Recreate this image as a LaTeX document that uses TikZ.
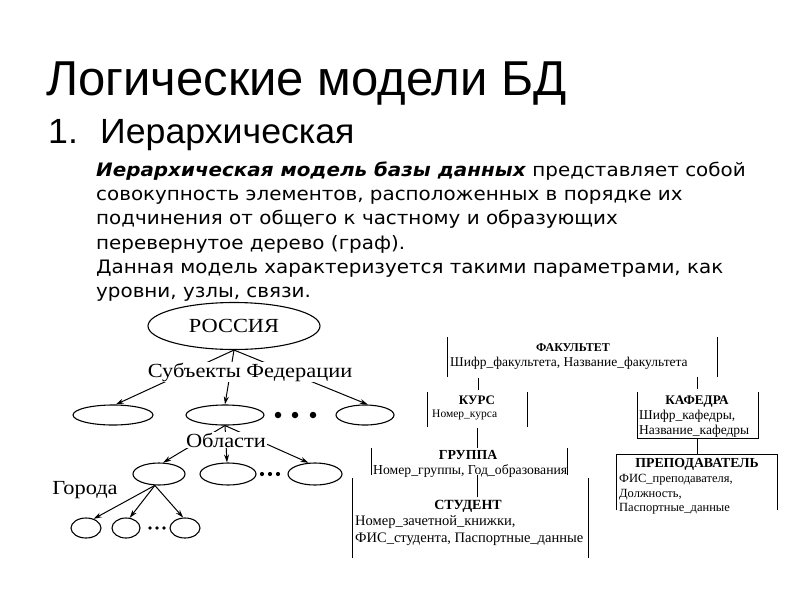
\documentclass[tikz,border=0pt]{standalone}
\usepackage{fontspec}
\setmainfont{Liberation Serif}
\newfontfamily\titlefont{Liberation Sans}
\newfontfamily\subfont[FakeStretch=1.02]{Liberation Sans}
\newfontfamily\parfont[FakeStretch=1.075]{DejaVu Sans}
\newfontfamily\treefont[FakeStretch=1.12]{Liberation Serif}
\usetikzlibrary{shapes.geometric,arrows.meta}
\begin{document}
\begin{tikzpicture}[x=1pt,y=-1pt,
  oval/.style={ellipse, draw, line width=1.1pt, inner sep=0pt},
  arr/.style={-{Stealth[length=8pt,width=5pt]}, line width=1pt},
  lbl/.style={font=\treefont\fontsize{20}{24}\selectfont, fill=white, inner sep=1pt},
  dotb/.style={circle, fill, inner sep=0pt},
  side/.style={line width=0.9pt},
  hdr/.style={font=\bfseries\fontsize{#1}{14}\selectfont, inner sep=0pt, anchor=base},
  fld/.style={font=\fontsize{#1}{14}\selectfont, inner sep=0pt, anchor=base west},
  ptext/.style={font=\parfont\fontsize{18.5}{22}\selectfont, anchor=base west, inner sep=0pt}]
\useasboundingbox (0,0) rectangle (800,600);
\fill[white] (0,0) rectangle (800,600);

% titles
\node[font=\titlefont\fontsize{49}{54}\selectfont, anchor=base west, inner sep=0pt] (title) at (46,95) {Логические модели БД};
\node[font=\subfont\fontsize{35}{40}\selectfont, anchor=base west, inner sep=0pt] (num) at (48,143.5) {1.};
\node[font=\subfont\fontsize{35}{40}\selectfont, anchor=base west, inner sep=0pt] (sub) at (100,143.5) {Иерархическая};

% paragraph
\node[ptext] (p1) at (96,176.5) {\textbf{\textit{Иерархическая модель базы данных}} представляет собой};
\node[ptext] (p2) at (96,200.7) {совокупность элементов, расположенных в порядке их};
\node[ptext] (p3) at (96,224.9) {подчинения от общего к частному и образующих};
\node[ptext] (p4) at (96,249.1) {перевернутое дерево (граф).};
\node[ptext] (p5) at (96,273.3) {Данная модель характеризуется такими параметрами, как};
\node[ptext] (p6) at (96,297.5) {уровни, узлы, связи.};

% tree
\node[oval, minimum width=172pt, minimum height=47pt] (rus) at (234,326) {\treefont\fontsize{20}{24}\selectfont РОССИЯ};
\node[oval, minimum width=80pt, minimum height=20pt] (e1) at (113,415) {};
\node[oval, minimum width=78pt, minimum height=20pt] (e2) at (225,415) {};
\node[oval, minimum width=58pt, minimum height=20pt] (e3) at (365,415) {};
\node[oval, minimum width=52pt, minimum height=22pt] (f1) at (159,474) {};
\node[oval, minimum width=56pt, minimum height=22pt] (f2) at (228,474) {};
\node[oval, minimum width=54pt, minimum height=22pt] (f3) at (315,474) {};
\node[oval, minimum width=30pt, minimum height=20pt] (g1) at (86,528) {};
\node[oval, minimum width=28pt, minimum height=20pt] (g2) at (126,528) {};
\node[oval, minimum width=30pt, minimum height=20pt] (g3) at (185,528) {};

\draw[arr] (rus.south) -- (e1.75);
\draw[arr] (rus.south) -- (e2.north);
\draw[arr] (rus.south) -- (e3.75);
\draw[arr] (e2.south) -- (f1.70);
\draw[arr] (e2.south) -- (f2.95);
\draw[arr] (e2.south) -- (f3.120);
\draw[arr] (f1.250) -- (g1.50);
\draw[arr] (f1.250) -- (g2.70);
\draw[arr] (f1.250) -- (g3.100);

\node[lbl] (subj) at (250,372) {Субъекты Федерации};
\node[lbl] (obl) at (226,440) {Области};
\node[font=\treefont\fontsize{20}{24}\selectfont, inner sep=0pt] (gor) at (85,490) {Города};

\foreach \x [count=\i] in {278,295,313} \node[dotb, minimum size=6.5pt] (da\i) at (\x,415) {};
\foreach \x [count=\i] in {262,270,278} \node[dotb, minimum size=4.2pt] (db\i) at (\x,474) {};
\foreach \x [count=\i] in {150,157,164} \node[dotb, minimum size=3.6pt] (dc\i) at (\x,528) {};

% right diagram: FAKULTET
\node[hdr=12] (fakh) at (573,351) {ФАКУЛЬТЕТ};
\node[fld=13.5] (fakf) at (450,366) {Шифр\_факультета, Название\_факультета};
\coordinate (fak1) at (447,337); \coordinate (fak2) at (447,377);
\coordinate (fak3) at (717,337); \coordinate (fak4) at (717,377);
\draw[side] (fak1) -- (fak2) (fak3) -- (fak4);

% KURS
\coordinate (k1) at (478,378); \coordinate (k2) at (478,390);
\draw[side] (k1) -- (k2);
\node[hdr=13] (kursh) at (477,404) {КУРС};
\node[fld=11.5] (kursf) at (432,417) {Номер\_курса};
\coordinate (ku1) at (427,392); \coordinate (ku2) at (427,427);
\coordinate (ku3) at (527,392); \coordinate (ku4) at (527,427);
\draw[side] (ku1) -- (ku2) (ku3) -- (ku4);

% GRUPPA
\coordinate (g1a) at (477,428); \coordinate (g1b) at (477,448);
\draw[side] (g1a) -- (g1b);
\node[hdr=13.8] (grh) at (468,459) {ГРУППА};
\node[fld=13.7] (grf) at (373,474) {Номер\_группы, Год\_образования};
\coordinate (gr1) at (371,448); \coordinate (gr2) at (371,475);
\coordinate (gr3) at (567,448); \coordinate (gr4) at (567,475);
\draw[side] (gr1) -- (gr2) (gr3) -- (gr4);

% STUDENT
\coordinate (s1a) at (477,475); \coordinate (s1b) at (477,497);
\draw[side] (s1a) -- (s1b);
\node[hdr=14] (sth) at (468,509) {СТУДЕНТ};
\node[fld=14.5] (stf1) at (355,525) {Номер\_зачетной\_книжки,};
\node[fld=14.5] (stf2) at (355,542) {ФИС\_студента, Паспортные\_данные};
\coordinate (st1) at (352,478); \coordinate (st2) at (352,558);
\coordinate (st3) at (588,478); \coordinate (st4) at (588,558);
\draw[side] (st1) -- (st2) (st3) -- (st4);

% KAFEDRA
\coordinate (c2a) at (697,377); \coordinate (c2b) at (697,389);
\draw[side] (c2a) -- (c2b);
\node[hdr=13.2] (kafh) at (697,404) {КАФЕДРА};
\node[fld=13.5] (kaff1) at (639,419) {Шифр\_кафедры,};
\node[fld=13.5] (kaff2) at (639,434) {Название\_кафедры};
\coordinate (ka1) at (637,392); \coordinate (ka2) at (637,438);
\coordinate (ka3) at (758,392); \coordinate (ka4) at (758,438);
\draw[side] (ka1) -- (ka2) -- (ka4) -- (ka3);

% PREPODAVATEL
\coordinate (p1a) at (697,438); \coordinate (p1b) at (697,454);
\draw[side] (p1a) -- (p1b);
\node[hdr=13.8] (prh) at (697,467) {ПРЕПОДАВАТЕЛЬ};
\node[fld=12.5] (prf1) at (619,482) {ФИС\_преподавателя,};
\node[fld=12.5] (prf2) at (619,497) {Должность,};
\node[fld=12.5] (prf3) at (619,511) {Паспортные\_данные};
\coordinate (pr1) at (616,510); \coordinate (pr2) at (616,454);
\coordinate (pr3) at (777,454); \coordinate (pr4) at (777,510);
\draw[side] (pr1) -- (pr2) -- (pr3) -- (pr4);
\end{tikzpicture}
\end{document}
